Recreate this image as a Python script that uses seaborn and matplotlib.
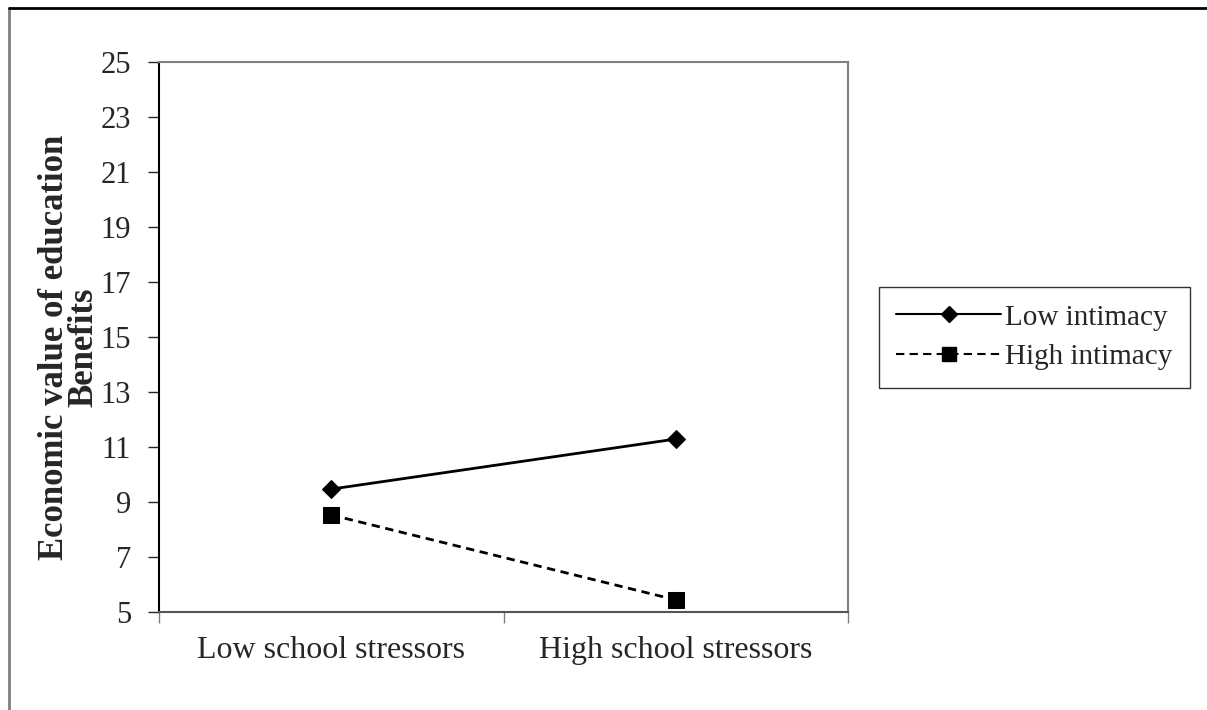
import pandas as pd
import matplotlib.pyplot as plt
import seaborn as sns
from matplotlib.lines import Line2D

# 데이터
categories = ["Low school stressors", "High school stressors"]
low_intimacy = [9.47, 11.29]
high_intimacy = [8.53, 5.44]
series_names = ["Low intimacy", "High intimacy"]
y_ticks = list(range(5, 26, 2))

df = pd.DataFrame({
    "stress": categories * 2,
    "value": low_intimacy + high_intimacy,
    "group": [series_names[0]] * 2 + [series_names[1]] * 2,
})

sns.set_style("white")
plt.rcParams["font.family"] = ["Liberation Serif", "DejaVu Serif"]

fig = plt.figure(figsize=(12.07, 7.1), dpi=100)
ax = fig.add_axes([0.1317, 0.138, 0.571, 0.7747])

sns.lineplot(
    data=df, x="stress", y="value", hue="group", style="group",
    markers={"Low intimacy": "D", "High intimacy": "s"},
    dashes={"Low intimacy": "", "High intimacy": (3, 2)},
    palette={"Low intimacy": "black", "High intimacy": "black"},
    linewidth=2, legend=False, ax=ax,
)
for ln, ms in zip(ax.lines[:2], [9, 12]):
    ln.set_markersize(ms)
    ln.set_markeredgecolor("black")

ax.set_xlim(-0.5, 1.5)
ax.set_ylim(5, 25)
ax.set_yticks(y_ticks)
ax.set_xticks([0, 1])
ax.set_xticklabels(categories, fontsize=23)
ax.set_xticks([-0.5, 0.5, 1.5], minor=True)
ax.tick_params(axis="x", which="major", length=0, pad=17)
ax.tick_params(axis="x", which="minor", length=8, width=1, color="#808080", direction="out", bottom=True)
ax.tick_params(axis="y", length=8, width=1, direction="out", left=True, labelsize=22, pad=12)

ax.set_xlabel("")
ax.set_ylabel("Economic value of education\nBenefits", fontsize=25, fontweight="bold", labelpad=0, linespacing=0.85)
ax.yaxis.set_label_coords(-0.085, 0.482)

ax.spines["left"].set_color("black")
ax.spines["bottom"].set_color("#555555")
ax.spines["top"].set_color("#808080")
ax.spines["right"].set_color("#808080")
for s in ax.spines.values():
    s.set_linewidth(1.5)

handles = [
    Line2D([], [], color="black", lw=1.5, marker="D", markersize=8),
    Line2D([], [], color="black", lw=1.5, ls=(0, (4, 2.5)), marker="s", markersize=10),
]
leg = fig.legend(
    handles, series_names, loc="center", bbox_to_anchor=(0.857, 0.525),
    fontsize=21, frameon=True, fancybox=False, handlelength=3.6,
    handletextpad=0.15, borderpad=0.6, labelspacing=0.45, borderaxespad=0,
)
leg.get_frame().set_edgecolor("black")
leg.get_frame().set_linewidth(1)

# 바깥 테두리
fig.add_artist(Line2D([0.0075, 0.0075], [0, 0.989], color="#808080", lw=2, transform=fig.transFigure))
fig.add_artist(Line2D([0.0075, 1], [0.989, 0.989], color="black", lw=2, transform=fig.transFigure))

fig.savefig("out.png", dpi=100)
